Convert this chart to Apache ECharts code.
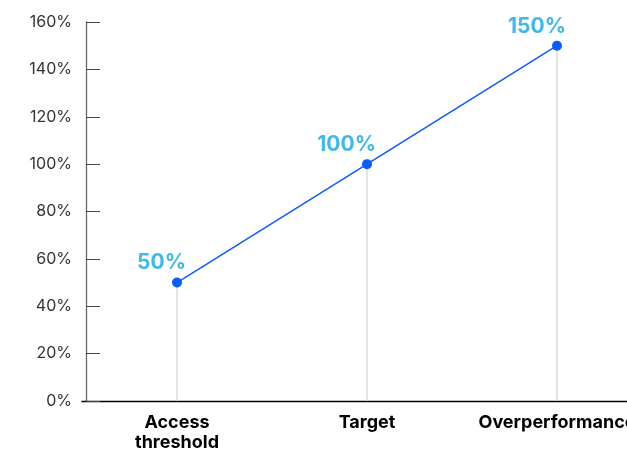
<!DOCTYPE html>
<html><head><meta charset="utf-8">
<script src="https://cdn.jsdelivr.net/npm/echarts@6/dist/echarts.min.js"></script>
<style>html,body{margin:0;padding:0;background:#fff}#c{width:627px;height:453px}</style>
</head><body><div id="c"></div>
<script>
const categories = ['Access\nthreshold', 'Target', 'Overperformance'];
const values = [50, 100, 150];
const yTicks = [0, 20, 40, 60, 80, 100, 120, 140, 160];

const chart = echarts.init(document.getElementById('c'));
chart.setOption({
  animation: false,
  grid: { left: 82, top: 22, width: 570, height: 379, containLabel: false, outerBoundsMode: 'none' },
  xAxis: {
    type: 'category', data: categories, boundaryGap: true,
    axisLine: { lineStyle: { color: '#000', width: 1.3 } },
    axisTick: { show: false },
    axisLabel: { color: '#000', fontFamily: 'Inter', fontWeight: 'bold', fontSize: 18, lineHeight: 20, margin: 12, interval: 0 },
    splitLine: { show: false }
  },
  yAxis: {
    type: 'value', min: 0, max: 160, interval: 20, offset: -4,
    axisLine: { show: true, lineStyle: { color: '#666', width: 1.3 } },
    axisTick: { show: true, inside: true, length: 14, lineStyle: { color: '#444' } },
    axisLabel: { color: '#333', fontFamily: 'Inter', fontSize: 16, margin: 14, formatter: v => v + '%' },
    splitLine: { show: false }
  },
  series: [
    {
      type: 'bar', data: values, barWidth: 1.5, silent: true,
      itemStyle: { color: '#d9d9d9' }, z: 1
    },
    {
      type: 'line', data: values, symbol: 'circle', symbolSize: 10, z: 3,
      lineStyle: { color: '#0a5cff', width: 1.5 },
      itemStyle: { color: '#0a5cff' },
      label: {
        show: true, position: 'top', distance: 4, align: 'right', offset: [9, 0],
        color: '#41b8ea', fontFamily: 'Inter', fontWeight: 'bold', fontSize: 21,
        formatter: p => p.value + '%'
      }
    }
  ]
});
</script></body></html>
